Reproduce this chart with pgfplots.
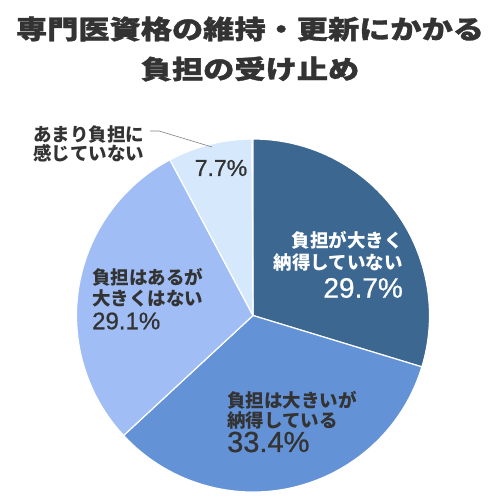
\documentclass[border=0pt]{standalone}
\usepackage{pgfplots}
\pgfplotsset{compat=1.18}
\usepackage{pgfplotstable}
\usepackage{fontspec}
\setmainfont{Liberation Sans}
\newfontfamily\num{Liberation Sans}[FakeBold=0.8]
\newfontfamily\jp{Noto Sans CJK JP}
\newfontfamily\jpt{Noto Sans CJK JP}[FakeStretch=1.2,FakeBold=1.2]
\definecolor{s0}{RGB}{59,103,145}
\definecolor{s1}{RGB}{100,146,214}
\definecolor{s2}{RGB}{160,190,245}
\definecolor{s3}{RGB}{214,233,252}
\definecolor{txt}{RGB}{51,51,51}
\pgfplotstableread{
idx value
0 29.7
1 33.4
2 29.1
3 7.7
}\piedata
\begin{document}
\begin{tikzpicture}
\begin{axis}[name=ax,x=1bp,y=1bp,xmin=0,xmax=501,ymin=0,ymax=501,y dir=reverse,
  hide axis,clip=false,scale only axis]
\path[fill=white] (axis cs:0,0) rectangle (axis cs:501,501);
\def\cumul{0}
\pgfplotsforeachungrouped \i in {0,...,3}{%
  \pgfplotstablegetelem{\i}{value}\of\piedata
  \let\v\pgfplotsretval
  \pgfmathsetmacro\a{90-\cumul*3.6}%
  \pgfmathsetmacro\b{90-(\cumul+\v)*3.6}%
  \pgfmathsetmacro\cumul{\cumul+\v}%
  \edef\temp{\noexpand\fill[fill=s\i, draw=white, line width=1.2pt, line join=round] (axis cs:253,315.5) -- ++(\a:176.5bp) arc[start angle=\a, end angle=\b, radius=176.5bp] -- cycle;}%
  \temp
}
\addplot[gray, line width=0.6pt, no marks] coordinates {(150,131) (159,131) (212,147)};
% title
\node[text=txt, font=\jpt\bfseries\fontsize{26bp}{30bp}\selectfont] at (axis cs:250,29) {専門医資格の維持・更新にかかる};
\node[text=txt, font=\jpt\bfseries\fontsize{26bp}{30bp}\selectfont] at (axis cs:250,69) {負担の受け止め};
% slice 1
\node[anchor=east, text=white, font=\jp\bfseries\fontsize{18.5bp}{20bp}\selectfont, inner sep=0pt] at (axis cs:403,240) {負担が大きく};
\node[anchor=east, text=white, font=\jp\bfseries\fontsize{18.5bp}{20bp}\selectfont, inner sep=0pt] at (axis cs:403,262) {納得していない};
\node[anchor=east, text=white, font=\num\fontsize{28bp}{30bp}\selectfont, inner sep=0pt] at (axis cs:403,288) {29.7\%};
% slice 2
\node[anchor=west, text=txt, font=\jp\bfseries\fontsize{18.5bp}{20bp}\selectfont, inner sep=0pt] at (axis cs:227,400) {負担は大きいが};
\node[anchor=west, text=txt, font=\jp\bfseries\fontsize{18.5bp}{20bp}\selectfont, inner sep=0pt] at (axis cs:227,420) {納得している};
\node[anchor=west, text=txt, font=\num\fontsize{29bp}{30bp}\selectfont, inner sep=0pt] at (axis cs:227,442) {33.4\%};
% slice 3
\node[anchor=west, text=txt, font=\jp\bfseries\fontsize{18.5bp}{20bp}\selectfont, inner sep=0pt] at (axis cs:92,277) {負担はあるが};
\node[anchor=west, text=txt, font=\jp\bfseries\fontsize{18.5bp}{20bp}\selectfont, inner sep=0pt] at (axis cs:92,298) {大きくはない};
\node[anchor=west, text=txt, font=\num\fontsize{24bp}{26bp}\selectfont, inner sep=0pt] at (axis cs:92,321) {29.1\%};
% slice 4
\node[text=txt, font=\num\fontsize{23bp}{25bp}\selectfont, inner sep=0pt] at (axis cs:221,168) {7.7\%};
\node[anchor=west, text=txt, font=\jp\bfseries\fontsize{18.5bp}{20bp}\selectfont, inner sep=0pt] at (axis cs:33,135) {あまり負担に};
\node[anchor=west, text=txt, font=\jp\bfseries\fontsize{18.5bp}{20bp}\selectfont, inner sep=0pt] at (axis cs:33,153) {感じていない};
\end{axis}
\pgfresetboundingbox
\path[use as bounding box] (ax.south west) rectangle (ax.north east);
\end{tikzpicture}
\end{document}
